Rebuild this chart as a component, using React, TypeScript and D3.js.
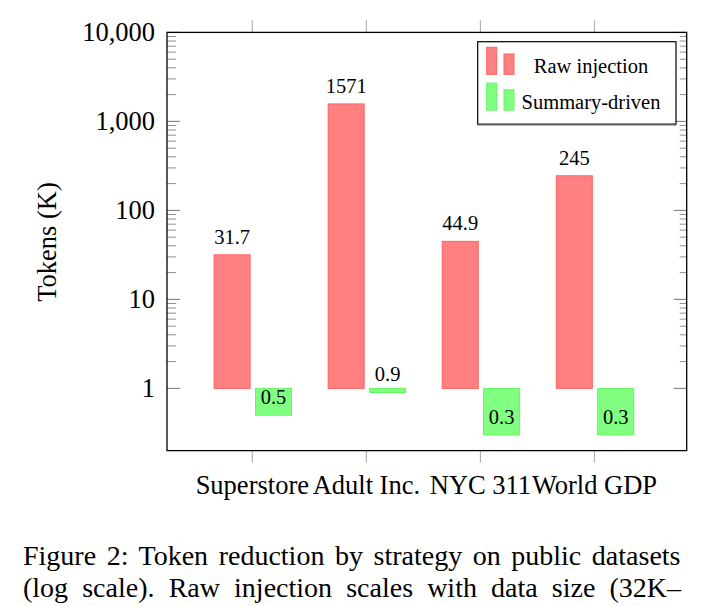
import React from 'react';
import * as d3 from 'd3';

// data
const categories = ['Superstore', 'Adult Inc.', 'NYC 311', 'World GDP'];
const rawInjection = [31.7, 1571, 44.9, 245];
const summaryDriven = [0.5, 0.9, 0.3, 0.3];
const seriesNames = ['Raw injection', 'Summary-driven'];
const yTicks = [1, 10, 100, 1000, 10000];
const captionLines = [
  'Figure 2: Token reduction by strategy on public datasets',
  '(log scale). Raw injection scales with data size (32K\u2013',
];

const fills = ['#ff8080', '#80ff80'];
const strokes = ['#ff6060', '#60f860'];
const font = '"Liberation Serif", "Times New Roman", serif';

// justify a caption line by stretching the word gaps (like LaTeX does)
function wordGap(text: string, size: number, target: number) {
  const ctx = document.createElement('canvas').getContext('2d');
  if (!ctx) return 0;
  ctx.font = size + 'px ' + font;
  const w = ctx.measureText(text).width;
  const gaps = text.split(' ').length - 1;
  return gaps > 0 ? Math.max(0, (target - w) / gaps) : 0;
}

export default function App() {
  const width = 714;
  const height = 606;

  // plot frame
  const left = 167, right = 686.7, top = 32.4, bottom = 450.6;

  const y = d3.scaleLog().domain([0.2, 10000]).range([bottom, top]);
  const x = d3.scalePoint<string>().domain(categories).range([252.3, 594.5]);

  const barW = 36;
  const offsets = [-20.2, 21.2];
  const series = [rawInjection, summaryDriven];

  // minor ticks only between the shown decades
  const minor: number[] = [];
  for (let p = 0; p < 4; p++) {
    for (let m = 2; m < 10; m++) minor.push(m * Math.pow(10, p));
  }

  const fmt = d3.format(',');
  const capSize = 28;
  const capWidth = 658;

  return (
    <svg width={width} height={height}
      style={{ position: 'absolute', left: 0, top: 0, background: '#fff' }}
      fontFamily={font}>

      {/* category ticks, outside on top and bottom */}
      {categories.map(c => (
        <g key={'xt' + c} stroke="#b0b0b0" strokeWidth={1.2}>
          <line x1={x(c)} x2={x(c)} y1={bottom} y2={bottom + 12} />
          <line x1={x(c)} x2={x(c)} y1={top} y2={top - 12} />
        </g>
      ))}

      {/* y ticks both sides, inside */}
      {minor.map(v => (
        <g key={'mn' + v} stroke="#909090" strokeWidth={1}>
          <line x1={left} x2={left + 9} y1={y(v)} y2={y(v)} />
          <line x1={right} x2={right - 7} y1={y(v)} y2={y(v)} />
        </g>
      ))}
      {yTicks.map(v => (
        <g key={'mj' + v} stroke="#808080" strokeWidth={1.1}>
          <line x1={left} x2={left + 13} y1={y(v)} y2={y(v)} />
          <line x1={right} x2={right - 13} y1={y(v)} y2={y(v)} />
        </g>
      ))}

      {/* bars start at 1 */}
      {series.map((vals, s) => vals.map((v, i) => {
        const cx = x(categories[i])! + offsets[s];
        const y0 = y(1), y1 = y(v);
        return (
          <g key={'b' + s + i}>
            <rect x={cx - barW / 2} y={Math.min(y0, y1)} width={barW}
              height={Math.max(Math.abs(y1 - y0), 1)}
              fill={fills[s]} stroke={strokes[s]} strokeWidth={1} />
            <text x={cx} y={y1 - 11} fontSize={20.5} textAnchor="middle">{String(v)}</text>
          </g>
        );
      }))}

      {/* frame */}
      <rect x={left} y={top} width={right - left} height={bottom - top}
        fill="none" stroke="#000" strokeWidth={1.3} />

      {/* y tick labels */}
      {yTicks.map(v => (
        <text key={'yl' + v} x={155} y={y(v) + 9} fontSize={26.5} textAnchor="end">{fmt(v)}</text>
      ))}

      {/* x tick labels */}
      {categories.map(c => (
        <text key={'xl' + c} x={x(c)} y={493.5} fontSize={26.5} textAnchor="middle">{c}</text>
      ))}

      <text transform="translate(55.5,242) rotate(-90)" fontSize={26.5} textAnchor="middle">Tokens (K)</text>

      {/* legend */}
      <g>
        <rect x={477.7} y={41.7} width={198.3} height={82.6} fill="#fff" stroke="#000" strokeWidth={1.2} />
        <line x1={477.7} x2={676} y1={124.5} y2={124.5} stroke="#606060" strokeWidth={2} />
        {seriesNames.map((n, s) => {
          const base = 74.3 + s * 35.8;
          return (
            <g key={'lg' + n}>
              <rect x={486.7} y={base - 27} width={10} height={27} fill={fills[s]} stroke={strokes[s]} />
              <rect x={504} y={base - 20.3} width={10} height={20.3} fill={fills[s]} stroke={strokes[s]} />
              <text x={591} y={base - 1.6} fontSize={20.5} textAnchor="middle">{n}</text>
            </g>
          );
        })}
      </g>

      {/* caption */}
      {captionLines.map((t, i) => (
        <text key={'cap' + i} x={23} y={564.5 + i * 32} fontSize={capSize}
          wordSpacing={wordGap(t, capSize, capWidth)} style={{ whiteSpace: 'pre' }}>{t}</text>
      ))}
    </svg>
  );
}
